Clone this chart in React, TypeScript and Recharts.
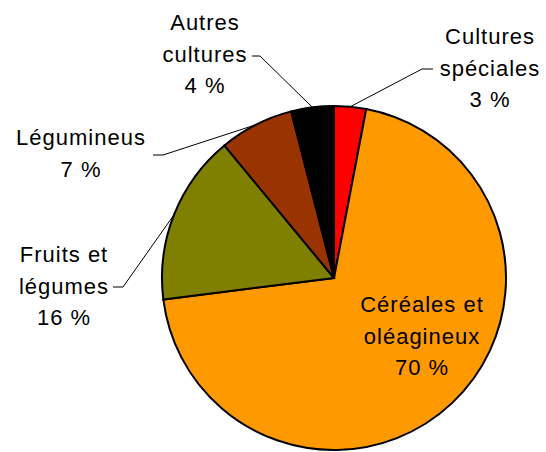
import { PieChart, Pie, Cell } from "recharts";

const categories = [
  "Cultures spéciales",
  "Céréales et oléagineux",
  "Fruits et légumes",
  "Légumineus",
  "Autres cultures",
];
const shares = [3, 70, 16, 7, 4];
const colors = ["#FF0000", "#FF9900", "#808000", "#993300", "#000000"];
const labelLines = [
  ["Cultures", "spéciales"],
  ["Céréales et", "oléagineux"],
  ["Fruits et", "légumes"],
  ["Légumineus"],
  ["Autres", "cultures"],
];

// label placement relative to the pie centre (text centre x, first baseline y, elbow, line end)
const labelLayout = [
  { tx: 156, ty: -234, ex: 88, ey: -209, lx: 99, ly: -209 },
  { tx: 88, ty: 34 },
  { tx: -270, ty: -16, ex: -211, ey: 9, lx: -221, ly: 9 },
  { tx: -253, ty: -133, ex: -171, ey: -123, lx: -181, ly: -123 },
  { tx: -129, ty: -248, ex: -74, ey: -222, lx: -82, ly: -222 },
];

const data = categories.map((name, i) => ({ name, value: shares[i] }));

const RADIAN = Math.PI / 180;
const LINE_H = 31.5;

const renderLabel = (props: any) => {
  const { cx, cy, midAngle, outerRadius, index, value } = props;
  const lay = labelLayout[index];
  const lines = [...labelLines[index], `${value} %`];
  const sx = cx + outerRadius * Math.cos(-midAngle * RADIAN);
  const sy = cy + outerRadius * Math.sin(-midAngle * RADIAN);
  return (
    <g key={`lbl-${index}`}>
      {lay.ex !== undefined && (
        <polyline
          points={`${sx},${sy} ${cx + lay.ex},${cy + lay.ey} ${cx + lay.lx},${cy + lay.ly}`}
          fill="none"
          stroke="#000"
          strokeWidth={1}
        />
      )}
      <text
        x={cx + lay.tx}
        y={cy + lay.ty}
        textAnchor="middle"
        fill="#000"
        fontSize={22}
        letterSpacing={1}
        fontFamily="'Liberation Sans', Arial, sans-serif"
      >
        {lines.map((t, j) => (
          <tspan key={j} x={cx + lay.tx} y={cy + lay.ty + j * LINE_H}>
            {t}
          </tspan>
        ))}
      </text>
    </g>
  );
};

export default function App() {
  return (
    <div style={{ position: "absolute", left: 0, top: 0, background: "#fff" }}>
      <PieChart width={546} height={452} margin={{ top: 0, right: 0, bottom: 0, left: 0 }}>
        <Pie
          data={data}
          dataKey="value"
          nameKey="name"
          cx={334}
          cy={278}
          outerRadius={172}
          startAngle={90}
          endAngle={-270}
          stroke="#000"
          strokeWidth={2}
          label={renderLabel}
          labelLine={false}
          isAnimationActive={false}
        >
          {data.map((d, i) => (
            <Cell key={d.name} fill={colors[i]} />
          ))}
        </Pie>
      </PieChart>
    </div>
  );
}
